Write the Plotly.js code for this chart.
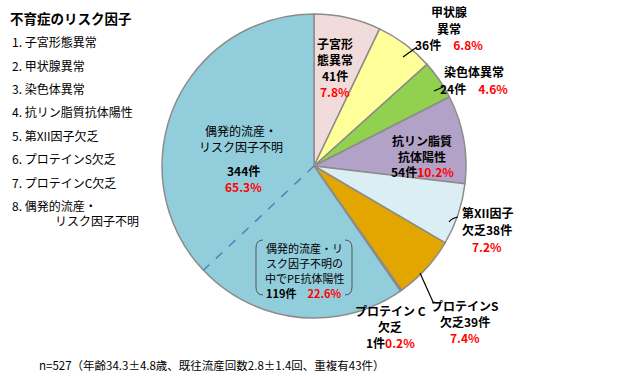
<!DOCTYPE html>
<html><head><meta charset="utf-8">
<script src="https://cdn.plot.ly/plotly-3.0.1.min.js"></script>
<style>body{margin:0;background:#fff}#c{width:628px;height:376px}</style>
</head><body><div id="c"></div><script>
const categories = ['子宮形態異常','甲状腺異常','染色体異常','抗リン脂質抗体陽性','第XII因子欠乏','プロテインS欠乏','プロテインC欠乏','偶発的流産・リスク因子不明'];
const counts = [41, 36, 24, 54, 38, 39, 1, 344];
const percents = ['7.8%', '6.8%', '4.6%', '10.2%', '7.2%', '7.4%', '0.2%', '65.3%'];
const subsetCount = 119;
const subsetPercent = '22.6%';
const nTotal = 527;
const legendTitle = '不育症のリスク因子';
const legendItems = ['1. 子宮形態異常','2. 甲状腺異常','3. 染色体異常','4. 抗リン脂質抗体陽性','5. 第XII因子欠乏','6. プロテインS欠乏','7. プロテインC欠乏','8. 偶発的流産・'];
const legendCont = 'リスク因子不明';
const footnote = 'n=527（年齢34.3±4.8歳、既往流産回数2.8±1.4回、重複有43件）';
const colors = ['#F2DCDB','#FFFF99','#92D050','#B3A2C7','#DBEEF4','#E3A600','#8064A2','#92CDDC'];

const W = 628, H = 376;
const FONT = '"Noto Sans CJK JP", "Noto Sans", sans-serif';
const cx = 314, cy = 166, R = 152;
const px = x => x / W, py = y => 1 - y / H;
const red = s => '<span style="color:#FF0000"><b>' + s + '</b></span>';
const b = s => '<b>' + s + '</b>';

const pie = {
  type: 'pie', values: counts, labels: categories, sort: false, direction: 'clockwise', rotation: 0,
  marker: {colors: colors, line: {color: '#8C8C8C', width: 1.5}},
  textinfo: 'none', hoverinfo: 'label+value', showlegend: false,
  domain: {x: [px(cx - R), px(cx + R)], y: [py(cy + R), py(cy - R)]}
};

// dashed divider inside the big slice: share of subset relative to n
const total = counts.reduce((a, c) => a + c, 0);
const before = counts.slice(0, 7).reduce((a, c) => a + c, 0);
const ang = (before / total + subsetCount / nTotal) * 2 * Math.PI;
const ex = cx + R * Math.sin(ang), ey = cy - R * Math.cos(ang);

const ann = [];
function A(x, y, text, size, opt) {
  ann.push(Object.assign({x: px(x), y: py(y), xref: 'paper', yref: 'paper', text: text, showarrow: false,
    xanchor: 'center', yanchor: 'middle', align: 'center', font: {family: FONT, size: size || 12, color: '#000'}}, opt || {}));
}
function L(x, y0, step, lines, size) { lines.forEach((t, i) => A(x, y0 + i * step, t, size)); }

// legend
A(8, 18, b(legendTitle), 13.5, {xanchor: 'left', align: 'left'});
const ly = [42, 65, 88, 111, 135, 158, 182, 205];
legendItems.forEach((t, i) => A(10, ly[i], t, 12, {xanchor: 'left', align: 'left'}));
A(53, 220, legendCont, 12, {xanchor: 'left', align: 'left'});

// slice labels
L(335, 43, 16, [b('子宮形'), b('態異常'), b(counts[0] + '件'), red(percents[0])], 12);
L(449, 12, 16, [b('甲状腺'), b('異常'), b(counts[1] + '件') + '　' + red(percents[1])], 12);
L(474, 72, 16, [b('染色体異常'), b(counts[2] + '件') + '　' + red(percents[2])], 12);
L(422, 140, 16, [b('抗リン脂質'), b('抗体陽性'), b(counts[3] + '件') + red(percents[3])], 12);
L(487, 212, 17, [b('第XII因子'), b('欠乏' + counts[4] + '件'), red(percents[4])], 12);
L(465, 305, 16, [b('プロテインS'), b('欠乏' + counts[5] + '件'), red(percents[5])], 12);
L(390, 310, 16, [b('プロテイン C'), b('欠乏'), b(counts[6] + '件') + red(percents[6])], 12);
L(241, 130, 16, ['偶発的流産・', 'リスク因子不明'], 12);
L(243, 170, 16, [b(counts[7] + '件'), red(percents[7])], 12);
L(304, 248, 15, ['偶発的流産・リ', 'スク因子不明の', '中でPE抗体陽性', b(subsetCount + '件') + '　' + red(subsetPercent)], 11);
A(37, 365, footnote, 11.5, {xanchor: 'left', align: 'left'});

const P = (x, y) => px(x).toFixed(4) + ',' + py(y).toFixed(4);
const lineS = (d, c, w) => ({type: 'path', xref: 'paper', yref: 'paper', path: d, line: {color: c, width: w}});
const shapes = [
  {type: 'line', xref: 'paper', yref: 'paper', x0: px(cx), y0: py(cy), x1: px(ex), y1: py(ey), line: {color: '#4F81BD', width: 1.5, dash: 'dash'}},
  lineS('M' + P(417, 47) + ' L' + P(403, 57), '#000', 1.2),
  lineS('M' + P(443, 87) + ' L' + P(434, 91), '#000', 1.2),
  lineS('M' + P(458, 217) + ' Q' + P(452, 218) + ' ' + P(449, 222), '#000', 1.2),
  lineS('M' + P(420, 273) + ' L' + P(433, 302) + ' L' + P(438, 303), '#000', 1.2),
  lineS('M' + P(263, 240) + ' Q' + P(256, 240) + ' ' + P(256, 248) + ' L' + P(256, 287) + ' Q' + P(256, 295) + ' ' + P(263, 295), '#555', 1),
  lineS('M' + P(345, 240) + ' Q' + P(352, 240) + ' ' + P(352, 248) + ' L' + P(352, 287) + ' Q' + P(352, 295) + ' ' + P(345, 295), '#555', 1)
];

Plotly.newPlot('c', [pie], {
  width: W, height: H, margin: {l: 0, r: 0, t: 0, b: 0},
  paper_bgcolor: '#fff', plot_bgcolor: '#fff',
  annotations: ann, shapes: shapes, showlegend: false
}, {staticPlot: true});
</script></body></html>
